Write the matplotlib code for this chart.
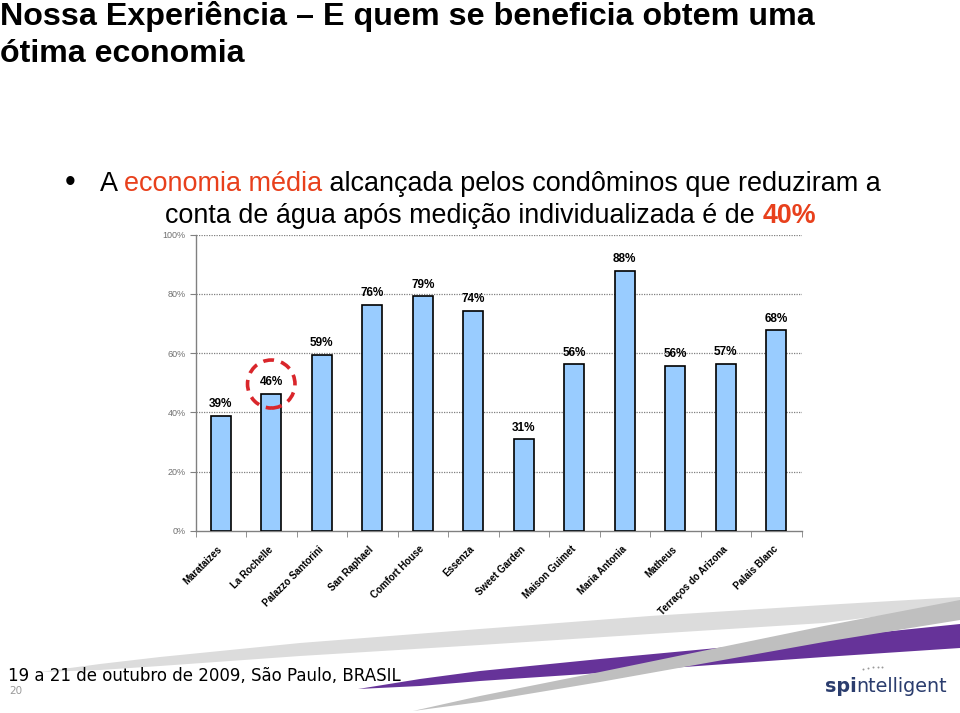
import matplotlib
matplotlib.use("Agg")
import matplotlib.pyplot as plt
from matplotlib.patches import Polygon, Ellipse
from matplotlib import font_manager

# dados do grafico
condominios = ["Marataizes", "La Rochelle", "Palazzo Santorini", "San Raphael",
               "Comfort House", "Essenza", "Sweet Garden", "Maison Guimet",
               "Maria Antonia", "Matheus", "Terraços do Arizona", "Palais Blanc"]
economia = [38.8, 46.2, 59.3, 76.2, 79.2, 74.2, 30.9, 56.2, 87.9, 55.6, 56.5, 67.7]
rotulos = ["39%", "46%", "59%", "76%", "79%", "74%", "31%", "56%", "88%", "56%", "57%", "68%"]
yticks = [0, 20, 40, 60, 80, 100]
ytick_labels = ["0%", "20%", "40%", "60%", "80%", "100%"]
destaque = 1  # La Rochelle circulado

W, H = 960, 713
names = {f.name for f in font_manager.fontManager.ttflist}
narrow = 'Liberation Sans Narrow' if 'Liberation Sans Narrow' in names else 'Liberation Sans'

fig = plt.figure(figsize=(W / 100, H / 100), dpi=100)
fig.patch.set_facecolor('white')
bg = fig.add_axes([0, 0, 1, 1], zorder=0)
bg.set_xlim(0, W)
bg.set_ylim(H, 0)
bg.axis('off')
renderer = fig.canvas.get_renderer()


def colored_line(x, y, pieces, size, target, family):
    # desenha pedacos de texto lado a lado e ajusta o tamanho p/ largura alvo
    def draw(sz):
        arts, cx = [], x
        for s, kw in pieces:
            t = bg.text(cx, y, s, fontsize=sz, va='baseline', ha='left',
                        family=family, **kw)
            cx += t.get_window_extent(renderer).width
            arts.append(t)
        return arts, cx - x
    arts, total = draw(size)
    for t in arts:
        t.remove()
    draw(size * target / total)


# faixas decorativas do rodape
light = [(40, 672), (100, 664), (160, 657), (300, 643), (480, 629), (650, 616), (824, 605), (960, 597),
         (960, 606), (824, 623), (650, 634), (480, 645), (300, 656), (160, 666), (100, 670)]
purple = [(358, 689), (420, 679), (480, 671), (600, 659), (824, 638), (960, 624),
          (960, 648), (824, 657), (600, 673), (480, 681), (420, 686)]
dark = [(413, 711), (480, 696), (600, 672), (824, 626), (960, 600),
        (960, 620), (824, 642), (600, 682), (480, 702)]
bg.add_patch(Polygon(light, closed=True, color='#dcdcdc', lw=0))
bg.add_patch(Polygon(purple, closed=True, color='#663399', lw=0))
bg.add_patch(Polygon(dark, closed=True, color='#bfbfbf', lw=0))

# titulo
colored_line(0, 25, [("Nossa Experiência – E quem se beneficia obtem uma", dict(weight='bold'))],
             24, 815, narrow)
colored_line(0, 62, [("ótima economia", dict(weight='bold'))], 24, 245, narrow)

# texto do bullet
bg.text(70, 183, "•", fontsize=22, va='center', ha='center', family='Liberation Sans')
red = '#e8401c'
colored_line(100, 191, [("A ", {}), ("economia média", dict(color=red)),
                        (" alcançada pelos condôminos que reduziram a", {})],
             20, 780, narrow)
colored_line(165, 223, [("conta de água após medição individualizada é de ", {}),
                        ("40%", dict(color=red, weight='bold'))],
             20, 650, narrow)

# rodape
colored_line(8, 681, [("19 a 21 de outubro de 2009, São Paulo, BRASIL", {})], 11, 394, 'DejaVu Sans')
bg.text(9, 694, "20", fontsize=7.5, color='#9a9a9a', va='baseline', family='DejaVu Sans')
navy = '#2b3d6e'
colored_line(825, 692, [("spi", dict(weight='bold', color=navy)), ("ntelligent", dict(color=navy))],
             13, 122, 'DejaVu Sans')
bg.scatter([863, 868, 873, 878, 882], [669, 668, 667, 667, 667], s=2, color='#9a9a9a', lw=0)

# grafico de barras
ax = fig.add_axes([195.5 / W, 1 - 531 / H, 606 / W, 296.3 / H], zorder=2)
ax.set_facecolor('none')
x = list(range(len(condominios)))
ax.bar(x, economia, width=0.4, color='#99ccff', edgecolor='black', lw=1.2, zorder=3)
for xi, v, lab in zip(x, economia, rotulos):
    ax.annotate(lab, (xi, v), xytext=(0, 8.5), textcoords='offset points',
                ha='center', va='center', fontsize=8.5, weight='bold', family=narrow)

ax.add_patch(Ellipse((destaque, economia[destaque] + 3.4), 0.94, 16.2, fill=False,
                     edgecolor='#d9262b', lw=2.6, ls=(0, (3, 2)), zorder=4, clip_on=False))

ax.set_xlim(-0.5, len(condominios) - 0.5)
ax.set_ylim(0, 100)
ax.set_yticks(yticks)
ax.set_yticklabels(ytick_labels, fontsize=6.5, color='#707070', family='Liberation Sans')
for yv in yticks[1:]:
    ax.axhline(yv, color='#808080', lw=0.9, ls=(0, (1, 1)), zorder=1)

ax.set_xticks(x)
ax.set_xticklabels(condominios, rotation=45, ha='right', va='center', rotation_mode='anchor',
                   fontsize=7, weight='bold', family='Liberation Sans')
ax.set_xticks([i - 0.5 for i in range(len(condominios) + 1)], minor=True)
ax.tick_params(axis='x', which='major', length=0, pad=12)
ax.tick_params(axis='x', which='minor', length=4, color='#808080', direction='out')
ax.tick_params(axis='y', length=4, color='#808080', direction='out', pad=3)
for s in ['top', 'right']:
    ax.spines[s].set_visible(False)
for s in ['left', 'bottom']:
    ax.spines[s].set_color('#808080')
    ax.spines[s].set_linewidth(1.0)

fig.savefig('out.png', dpi=100)
